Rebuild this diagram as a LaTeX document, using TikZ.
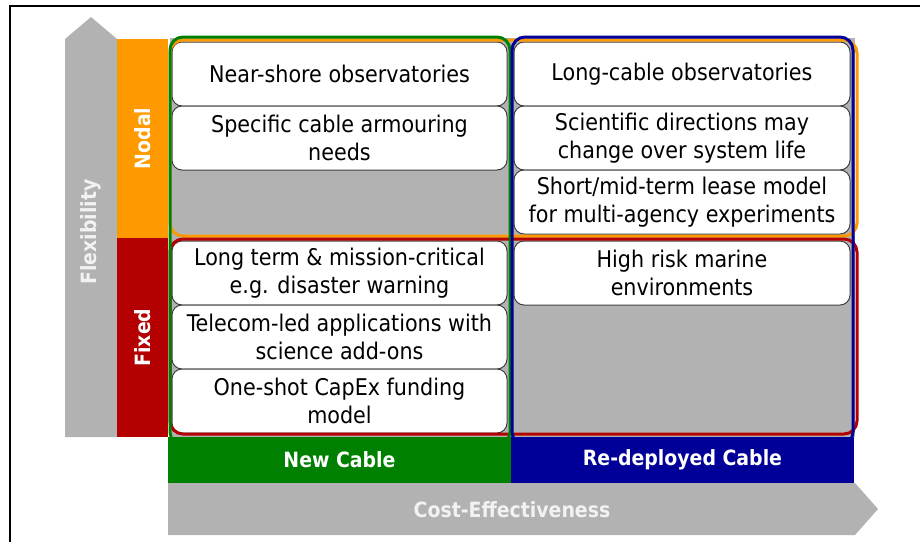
\documentclass[tikz,border=0pt]{standalone}
\usepackage{fontspec}
\setmainfont{DejaVu Sans Condensed}

\definecolor{newgreen}{HTML}{008000}
\definecolor{redeployblue}{HTML}{000099}
\definecolor{nodalorange}{HTML}{FF9900}
\definecolor{fixedred}{HTML}{B40000}
\definecolor{axisgray}{HTML}{B2B2B2}

\tikzset{
    cell/.style={draw=black!75, line width=1pt, fill=white, rounded corners=10pt,
        minimum height=64pt, inner sep=2pt, align=center,
        font=\fontsize{23}{28.5}\selectfont},
    leftcell/.style={cell, minimum width=335pt},
    rightcell/.style={cell, minimum width=336pt},
    group/.style={line width=3pt, rounded corners=13pt},
    bartext/.style={text=white, inner sep=0pt, font=\bfseries\fontsize{21}{25}\selectfont},
    axistext/.style={text=black!5, inner sep=0pt, font=\bfseries\fontsize{21}{25}\selectfont}
}

\begin{document}
\begin{tikzpicture}[x=1pt, y=-1pt]
    \useasboundingbox (0,0) rectangle (920,542);
    \fill[white] (0,0) rectangle (920,542);
    \draw[line width=1.5pt] (10,542) -- (10,6) -- (920,6);

    \fill[axisgray] (65,437) -- (65,39) -- (91,17) -- (117,39) -- (117,437) -- cycle;
    \node[axistext, rotate=90] (flex) at (91,232) {Flexibility};
    \fill[axisgray] (168,483) -- (855,483) -- (878,509) -- (855,535) -- (168,535) -- cycle;
    \node[axistext] (cost) at (512,510) {Cost-Effectiveness};

    \fill[axisgray] (170,38) rectangle (855,437);

    \node[leftcell] (shore) at (339.5,74) {Near-shore observatories};
    \node[leftcell] (armour) at (339.5,138) {Specific cable armouring\\needs};
    \node[rightcell] (long) at (682,74) {Long-cable observatories};
    \node[rightcell] (science) at (682,138) {Scientific directions may\\change over system life};
    \node[rightcell] (lease) at (682,202) {Short/mid-term lease model\\for multi-agency experiments};
    \node[leftcell] (mission) at (339.5,273) {Long term \& mission-critical\\e.g. disaster warning};
    \node[leftcell] (telecom) at (339.5,337) {Telecom-led applications with\\science add-ons};
    \node[leftcell] (capex) at (339.5,401) {One-shot CapEx funding\\model};
    \node[rightcell] (risk) at (682,273) {High risk marine\\environments};

    \draw[group, nodalorange] (170,40) rectangle (857,236);
    \draw[group, fixedred] (170,239) rectangle (857,434);
    \draw[group, newgreen] (170,37) rectangle (510,445);
    \draw[group, redeployblue] (512,37) rectangle (853,445);

    \node[bartext, fill=nodalorange, minimum width=199pt, minimum height=51pt, rotate=90] (nodal) at (142.5,138.5) {Nodal};
    \node[bartext, fill=fixedred, minimum width=199pt, minimum height=51pt, rotate=90] (fixed) at (142.5,337.5) {Fixed};
    \node[bartext, fill=newgreen, minimum width=343pt, minimum height=46pt] (newcable) at (339.5,460) {New Cable};
    \node[bartext, fill=redeployblue, minimum width=343pt, minimum height=46pt] (redeployed) at (682.5,460) {Re-deployed Cable};
\end{tikzpicture}
\end{document}
